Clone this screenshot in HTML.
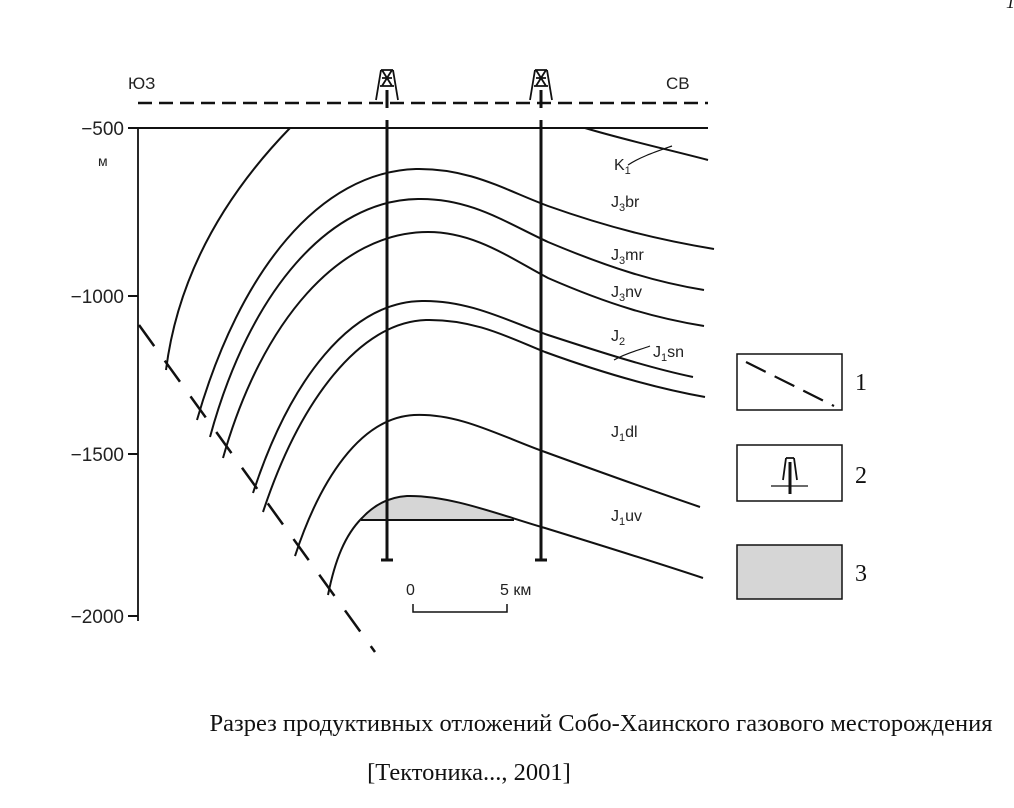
<!DOCTYPE html>
<html><head><meta charset="utf-8"><style>
html,body{margin:0;padding:0;background:#fff;}
body{width:1014px;height:808px;overflow:hidden;position:relative;}
svg{position:absolute;left:0;top:0;}
.s{font-family:"Liberation Sans",sans-serif;fill:#222;}
.t{font-family:"Liberation Serif",serif;fill:#111;}
</style></head><body>
<svg width="1014" height="808" viewBox="0 0 1014 808">
<g fill="none" stroke="#111" stroke-width="2">
<line x1="138" y1="103" x2="708" y2="103" stroke-dasharray="14,7" stroke-width="2.5"/>
<line x1="138" y1="128" x2="708" y2="128"/>
<line x1="138" y1="128" x2="138" y2="621" stroke-width="1.8"/>
<line x1="128" y1="128" x2="138" y2="128"/>
<line x1="128" y1="296" x2="138" y2="296"/>
<line x1="128" y1="454" x2="138" y2="454"/>
<line x1="128" y1="616" x2="138" y2="616"/>
<line x1="139" y1="325" x2="375" y2="652" stroke-width="2.5" stroke-dasharray="26,18"/>
<path d="M361,520 C372,505 388,497 407,496 C440,495 480,508 514,520 Z" fill="#d6d6d6" stroke="none"/>
<line x1="361" y1="520" x2="514" y2="520" stroke-width="2"/>
<path d="M290,128 C225,195 178,275 166,370"/>
<path d="M585,128 C625,140 670,150 708,160"/>
<path d="M197,420 C240,270 320,172 416,169 C470,168 505,190 548,206 C610,228 660,240 714,249"/>
<path d="M210,437 C250,290 330,200 418,199 C470,198 505,222 548,242 C610,268 655,282 704,290"/>
<path d="M223,458 C262,320 340,232 428,232 C475,232 510,258 548,278 C610,305 655,318 704,326"/>
<path d="M253,493 C290,380 350,302 422,301 C470,300 510,322 548,335 C600,352 650,368 693,377"/>
<path d="M263,512 C300,400 360,322 426,320 C475,319 510,338 545,352 C600,372 655,388 705,397"/>
<path d="M295,556 C320,480 360,418 414,415 C460,413 500,436 545,452 C600,472 650,490 700,507"/>
<path d="M328,595 C335,560 345,535 362,518 C375,504 390,497 407,496 C450,495 500,515 545,528 C600,545 655,562 703,578"/>
<path d="M628,165 C640,157 655,152 672,146" stroke-width="1.2"/>
<path d="M650,346 C640,350 628,352 614,360" stroke-width="1.2"/>
<line x1="387" y1="90" x2="387" y2="108" stroke-width="3"/>
<line x1="387" y1="120" x2="387" y2="560" stroke-width="3"/>
<line x1="381" y1="560" x2="393" y2="560" stroke-width="3"/>
<line x1="541" y1="90" x2="541" y2="108" stroke-width="3"/>
<line x1="541" y1="120" x2="541" y2="560" stroke-width="3"/>
<line x1="535" y1="560" x2="547" y2="560" stroke-width="3"/>
<g stroke-width="1.8">
<path d="M381,70 L376,100 M393,70 L398,100 M381,70 L393,70 M382,78 L392,78 M380,86 L394,86 M382,70 L392,86 M392,70 L382,86"/>
<path d="M535,70 L530,100 M547,70 L552,100 M535,70 L547,70 M536,78 L546,78 M534,86 L548,86 M536,70 L546,86 M546,70 L536,86"/>
</g>
<path d="M413,604 L413,612 L507,612 L507,604" stroke-width="1.5"/>
<rect x="737" y="354" width="105" height="56" stroke-width="1.5"/>
<line x1="746" y1="362" x2="834" y2="406" stroke-width="2.2" stroke-dasharray="22,10"/>
<rect x="737" y="445" width="105" height="56" stroke-width="1.5"/>
<line x1="771" y1="486" x2="808" y2="486" stroke-width="1.2"/>
<line x1="790" y1="462" x2="790" y2="494" stroke-width="3"/>
<path d="M786,458 L783,480 M794,458 L797,480 M786,458 L794,458" stroke-width="1.8"/>
<rect x="737" y="545" width="105" height="54" fill="#d6d6d6" stroke-width="1.5"/>
</g>
<g class="s" font-size="16">
<text x="128" y="89" font-size="17">ЮЗ</text>
<text x="666" y="89" font-size="17">СВ</text>
<g text-anchor="end" font-size="19">
<text x="124" y="135">−500</text>
<text x="124" y="303">−1000</text>
<text x="124" y="461">−1500</text>
<text x="124" y="623">−2000</text>
</g>
<text x="98" y="166" font-size="14">м</text>
<text x="614" y="170">K<tspan font-size="11" dy="4">1</tspan></text>
<text x="611" y="207">J<tspan font-size="11" dy="4">3</tspan><tspan dy="-4">br</tspan></text>
<text x="611" y="260">J<tspan font-size="11" dy="4">3</tspan><tspan dy="-4">mr</tspan></text>
<text x="611" y="297">J<tspan font-size="11" dy="4">3</tspan><tspan dy="-4">nv</tspan></text>
<text x="611" y="341">J<tspan font-size="11" dy="4">2</tspan></text>
<text x="653" y="357">J<tspan font-size="11" dy="4">1</tspan><tspan dy="-4">sn</tspan></text>
<text x="611" y="437">J<tspan font-size="11" dy="4">1</tspan><tspan dy="-4">dl</tspan></text>
<text x="611" y="521">J<tspan font-size="11" dy="4">1</tspan><tspan dy="-4">uv</tspan></text>
<text x="406" y="595">0</text>
<text x="500" y="595">5 км</text>
</g>
<g class="t" font-size="24">
<text x="855" y="390">1</text>
<text x="855" y="483">2</text>
<text x="855" y="581">3</text>
<text x="601" y="731" text-anchor="middle" font-size="24.5">Разрез продуктивных отложений Собо-Хаинского газового месторождения</text>
<text x="469" y="780" text-anchor="middle" font-size="24.5">[Тектоника..., 2001]</text>
<text x="1006" y="8" font-style="italic" font-size="18">1</text>
</g>
</svg>
</body></html>
